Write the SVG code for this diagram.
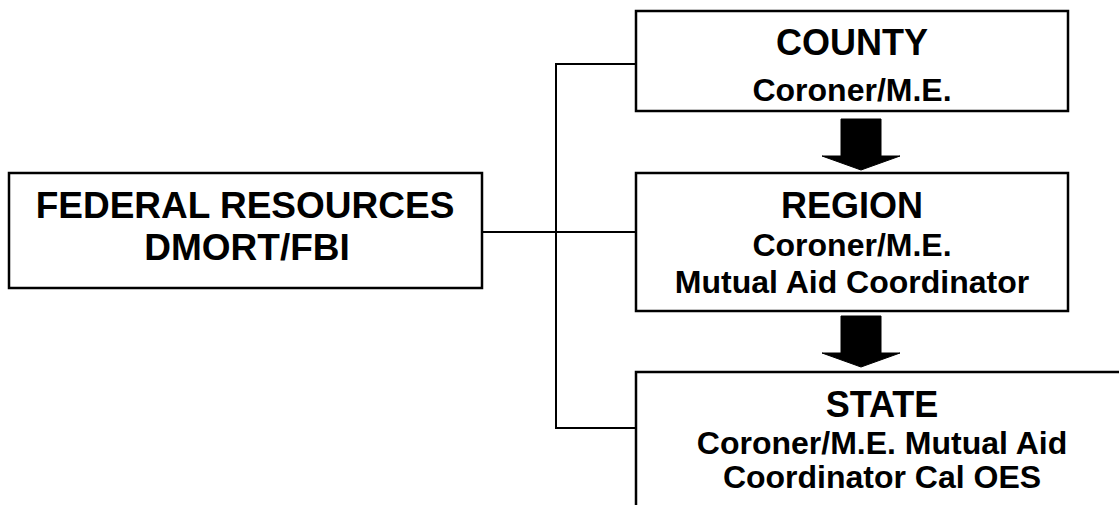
<svg xmlns="http://www.w3.org/2000/svg" width="1119" height="505" viewBox="0 0 1119 505">
<style>
.box{fill:#fff;stroke:#000;stroke-width:2.5}
.conn{fill:none;stroke:#000;stroke-width:2}
.arrow{fill:#000;stroke:#000;stroke-width:1;stroke-linejoin:round}
text{font-family:"Liberation Sans",Arial,sans-serif;font-weight:bold;fill:#000;text-anchor:middle}
.t1{font-size:37px}
.t2{font-size:36px}
.t3{font-size:32px}
</style>
<rect width="1119" height="505" fill="#fff"/>
<g id="connectors">
<polyline class="conn" points="636,64 556,64 556,428 636,428"/>
<line class="conn" x1="482" y1="232" x2="636" y2="232"/>
<polygon class="arrow" points="841,119 881,119 881,156 900,156 861,170 822,156 841,156"/>
<polygon class="arrow" points="841,316 881,316 881,353 900,353 861,367 822,353 841,353"/>
</g>
<g id="federal">
<rect class="box" x="9" y="173" width="473" height="115"/>
<text class="t1" x="245" y="218">FEDERAL RESOURCES</text>
<text class="t1" x="247" y="260">DMORT/FBI</text>
</g>
<g id="county">
<rect class="box" x="636" y="11" width="432" height="100"/>
<text class="t2" x="852" y="55">COUNTY</text>
<text class="t3" x="852" y="101">Coroner/M.E.</text>
</g>
<g id="region">
<rect class="box" x="636" y="173" width="432" height="138"/>
<text class="t2" x="852" y="218">REGION</text>
<text class="t3" x="852" y="256">Coroner/M.E.</text>
<text class="t3" x="852" y="293">Mutual Aid Coordinator</text>
</g>
<g id="state">
<rect class="box" x="636" y="372" width="494" height="150"/>
<text class="t2" x="882" y="417">STATE</text>
<text class="t3" x="882" y="454">Coroner/M.E. Mutual Aid</text>
<text class="t3" x="882" y="488">Coordinator Cal OES</text>
</g>
</svg>
